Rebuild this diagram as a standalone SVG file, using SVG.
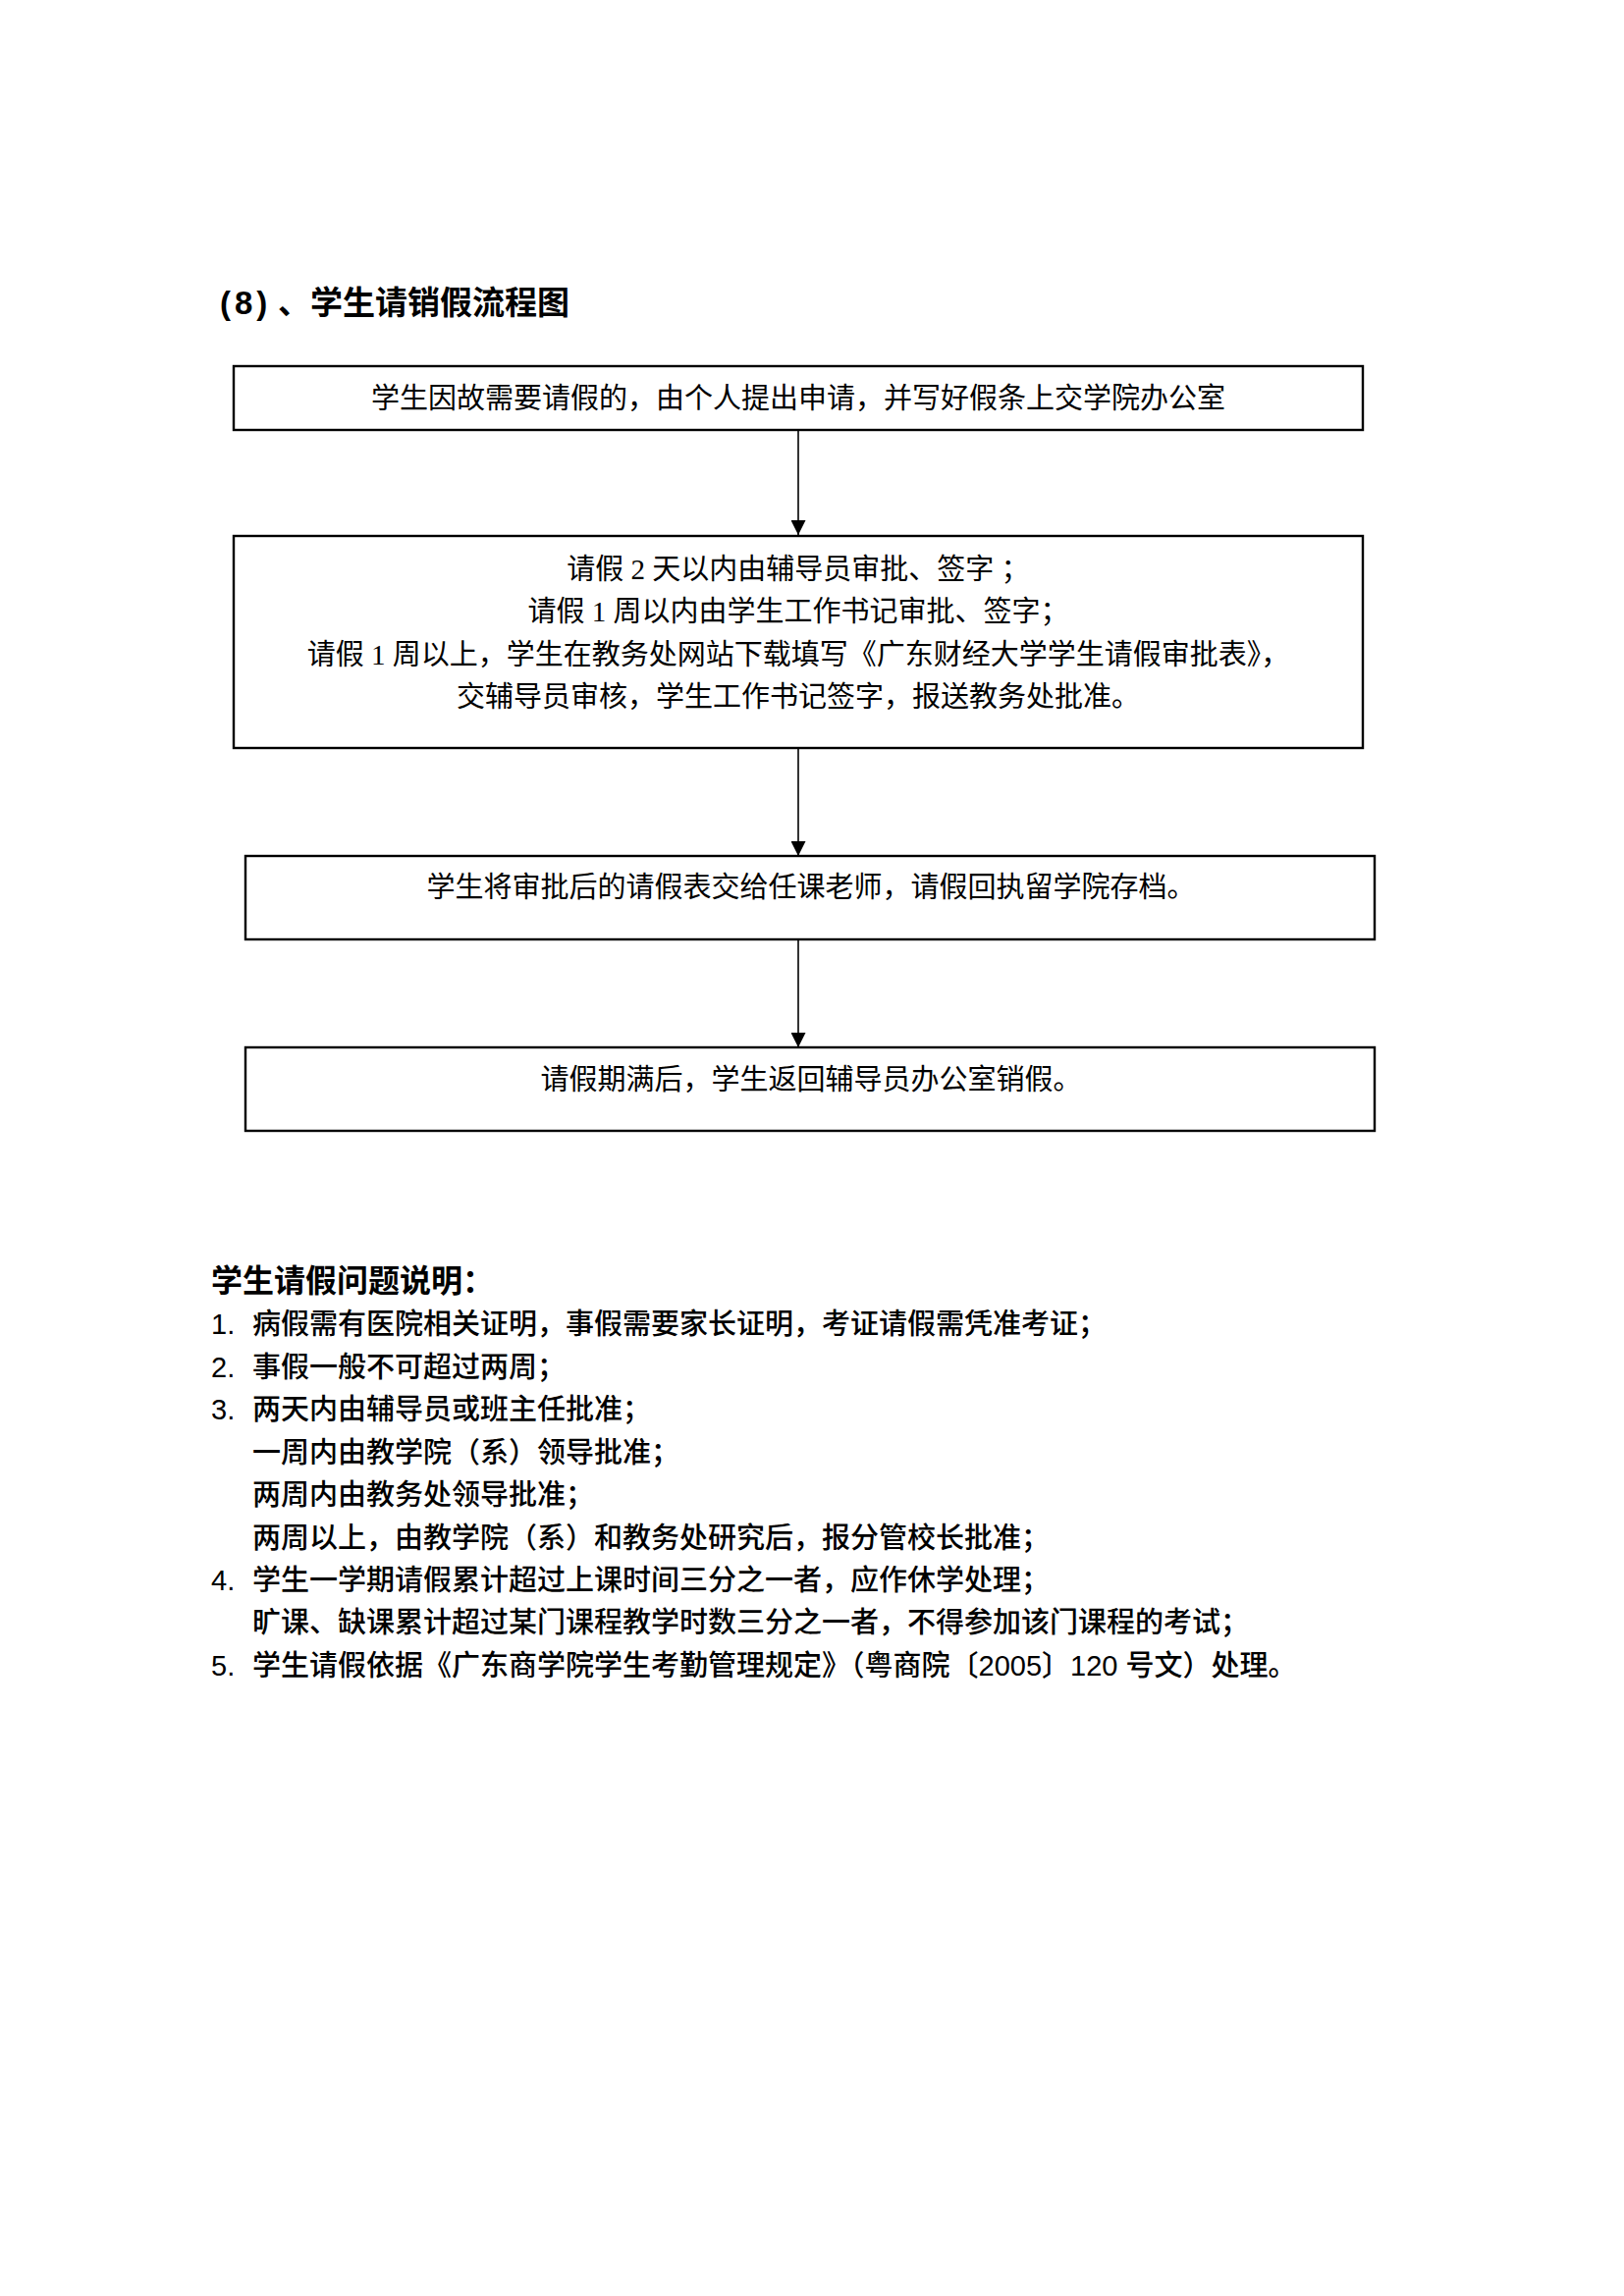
<svg xmlns="http://www.w3.org/2000/svg" width="1654" height="2339" viewBox="0 0 1654 2339">
  <style>
    .box { fill: #ffffff; stroke: #000000; stroke-width: 2.4; }
    .conn { stroke: #000000; stroke-width: 1.6; fill: none; }
    .bt { font-family: 'Liberation Serif', 'Noto Sans CJK SC', serif; font-size: 29px; fill: #000000; text-anchor: middle; }
    .title { font-family: 'Liberation Sans', 'Noto Sans CJK SC', sans-serif; font-size: 33px; font-weight: bold; fill: #000000; }
    .head { font-family: 'Liberation Sans', 'Noto Sans CJK SC', sans-serif; font-size: 32px; font-weight: bold; fill: #000000; }
    .nt { font-family: 'Liberation Sans', 'Noto Sans CJK SC', sans-serif; font-size: 29px; font-weight: 500; fill: #000000; }
  </style>
  <defs>
    <marker id="arrow" viewBox="0 0 15 15" refX="15" refY="7.5" markerWidth="15" markerHeight="15" markerUnits="userSpaceOnUse" orient="auto">
      <path d="M0,0 L15,7.5 L0,15 z" fill="#000000"/>
    </marker>
  </defs>
  <rect width="1654" height="2339" fill="#ffffff"/>

  <text class="title" y="320"><tspan x="224" letter-spacing="4">(8)</tspan><tspan x="283">、</tspan><tspan x="316">学生请销假流程图</tspan></text>

  <g id="connectors">
    <line class="conn" x1="813" y1="438" x2="813" y2="545" marker-end="url(#arrow)"/>
    <line class="conn" x1="813" y1="762" x2="813" y2="872" marker-end="url(#arrow)"/>
    <line class="conn" x1="813" y1="957" x2="813" y2="1067" marker-end="url(#arrow)"/>
  </g>

  <g id="node1">
    <rect class="box" x="238" y="373" width="1150" height="65"/>
    <text class="bt" x="813" y="416">学生因故需要请假的，由个人提出申请，并写好假条上交学院办公室</text>
  </g>

  <g id="node2">
    <rect class="box" x="238" y="546" width="1150" height="216"/>
    <text class="bt" x="813" y="590">请假 2 天以内由辅导员审批、签字 ；</text>
    <text class="bt" x="813" y="633">请假 1 周以内由学生工作书记审批、签字；</text>
    <text class="bt" x="813" y="677">请假 1 周以上，学生在教务处网站下载填写《广东财经大学学生请假审批表》，</text>
    <text class="bt" x="813" y="720">交辅导员审核，学生工作书记签字，报送教务处批准。</text>
  </g>

  <g id="node3">
    <rect class="box" x="250" y="872" width="1150" height="85"/>
    <text class="bt" x="826" y="914">学生将审批后的请假表交给任课老师，请假回执留学院存档。</text>
  </g>

  <g id="node4">
    <rect class="box" x="250" y="1067" width="1150" height="85"/>
    <text class="bt" x="826" y="1110">请假期满后，学生返回辅导员办公室销假。</text>
  </g>

  <g id="notes">
    <text class="head" x="215" y="1316">学生请假问题说明：</text>
    <text class="nt" x="215" y="1359">1.</text>
    <text class="nt" x="257" y="1359">病假需有医院相关证明，事假需要家长证明，考证请假需凭准考证；</text>
    <text class="nt" x="215" y="1403">2.</text>
    <text class="nt" x="257" y="1403">事假一般不可超过两周；</text>
    <text class="nt" x="215" y="1446">3.</text>
    <text class="nt" x="257" y="1446">两天内由辅导员或班主任批准；</text>
    <text class="nt" x="257" y="1490">一周内由教学院（系）领导批准；</text>
    <text class="nt" x="257" y="1533">两周内由教务处领导批准；</text>
    <text class="nt" x="257" y="1577">两周以上，由教学院（系）和教务处研究后，报分管校长批准；</text>
    <text class="nt" x="215" y="1620">4.</text>
    <text class="nt" x="257" y="1620">学生一学期请假累计超过上课时间三分之一者，应作休学处理；</text>
    <text class="nt" x="257" y="1663">旷课、缺课累计超过某门课程教学时数三分之一者，不得参加该门课程的考试；</text>
    <text class="nt" x="215" y="1707">5.</text>
    <text class="nt" x="257" y="1707">学生请假依据《广东商学院学生考勤管理规定》（粤商院〔2005〕120 号文）处理。</text>
  </g>
</svg>
